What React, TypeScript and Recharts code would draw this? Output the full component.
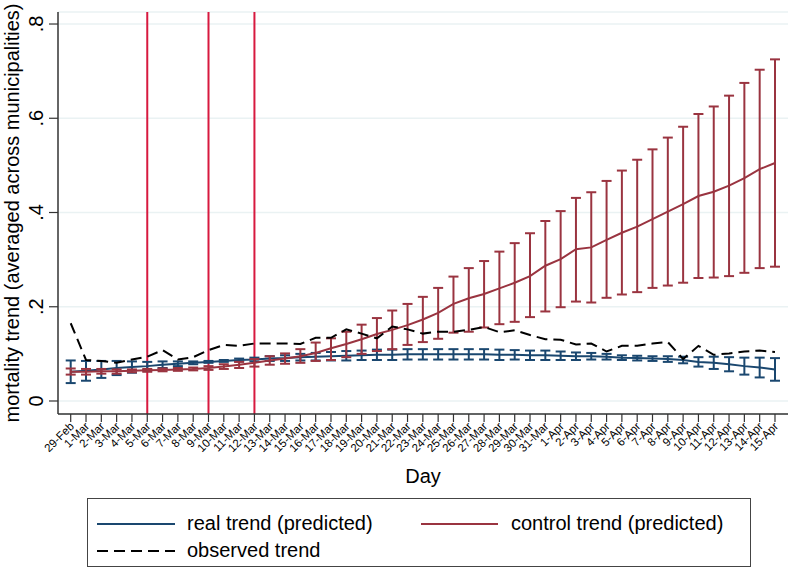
import React from "react";
import {
  LineChart,
  Line,
  XAxis,
  YAxis,
  CartesianGrid,
  ReferenceLine,
  ErrorBar,
  Label,
} from "recharts";

const days = [
  "29-Feb",
  "1-Mar", "2-Mar", "3-Mar", "4-Mar", "5-Mar", "6-Mar", "7-Mar", "8-Mar", "9-Mar", "10-Mar",
  "11-Mar", "12-Mar", "13-Mar", "14-Mar", "15-Mar", "16-Mar", "17-Mar", "18-Mar", "19-Mar", "20-Mar",
  "21-Mar", "22-Mar", "23-Mar", "24-Mar", "25-Mar", "26-Mar", "27-Mar", "28-Mar", "29-Mar", "30-Mar",
  "31-Mar",
  "1-Apr", "2-Apr", "3-Apr", "4-Apr", "5-Apr", "6-Apr", "7-Apr", "8-Apr", "9-Apr", "10-Apr",
  "11-Apr", "12-Apr", "13-Apr", "14-Apr", "15-Apr",
];

// policy dates marked with vertical lines
const policyDays = ["5-Mar", "9-Mar", "12-Mar"];

const yTicks = [0, 0.2, 0.4, 0.6, 0.8];

const real = [
  0.062, 0.064, 0.067, 0.070, 0.072, 0.074, 0.077, 0.079, 0.081, 0.083, 0.085,
  0.087, 0.088, 0.090, 0.091, 0.093, 0.094, 0.095, 0.096, 0.097, 0.098,
  0.098, 0.099, 0.099, 0.099, 0.099, 0.099, 0.099, 0.098, 0.098, 0.097,
  0.097, 0.096, 0.095, 0.095, 0.094, 0.092, 0.091, 0.090, 0.089, 0.087,
  0.083, 0.081, 0.078, 0.074, 0.071, 0.067,
];
const realLow = [
  0.038, 0.043, 0.049, 0.055, 0.060, 0.065, 0.070, 0.074, 0.078, 0.081, 0.083,
  0.084, 0.084, 0.085, 0.085, 0.086, 0.086, 0.086, 0.086, 0.087, 0.087,
  0.087, 0.088, 0.088, 0.088, 0.088, 0.088, 0.088, 0.087, 0.088, 0.087,
  0.087, 0.087, 0.087, 0.088, 0.088, 0.087, 0.086, 0.085, 0.083, 0.080,
  0.073, 0.068, 0.063, 0.056, 0.050, 0.043,
];
const realHigh = [
  0.086, 0.085, 0.085, 0.085, 0.084, 0.083, 0.084, 0.084, 0.084, 0.085, 0.087,
  0.090, 0.092, 0.095, 0.097, 0.100, 0.102, 0.104, 0.106, 0.107, 0.109,
  0.109, 0.110, 0.110, 0.110, 0.110, 0.110, 0.110, 0.109, 0.108, 0.107,
  0.107, 0.105, 0.103, 0.102, 0.100, 0.097, 0.096, 0.095, 0.095, 0.094,
  0.093, 0.094, 0.093, 0.092, 0.092, 0.091,
];

const control = [
  0.062, 0.062, 0.063, 0.063, 0.064, 0.065, 0.066, 0.067, 0.068, 0.070, 0.073,
  0.077, 0.081, 0.086, 0.090, 0.095, 0.102, 0.112, 0.121, 0.131, 0.142,
  0.151, 0.161, 0.173, 0.187, 0.206, 0.218, 0.227, 0.239, 0.251, 0.265,
  0.287, 0.301, 0.322, 0.326, 0.342, 0.357, 0.370, 0.386, 0.402, 0.418,
  0.435, 0.444, 0.457, 0.473, 0.492, 0.505,
];
const controlLow = [
  0.056, 0.056, 0.058, 0.058, 0.061, 0.062, 0.063, 0.064, 0.065, 0.066, 0.068,
  0.070, 0.073, 0.077, 0.079, 0.081, 0.085, 0.087, 0.093, 0.100, 0.106,
  0.110, 0.119, 0.125, 0.132, 0.145, 0.147, 0.156, 0.163, 0.168, 0.178,
  0.190, 0.199, 0.211, 0.209, 0.219, 0.226, 0.231, 0.240, 0.245, 0.251,
  0.261, 0.262, 0.265, 0.272, 0.282, 0.285,
];
const controlHigh = [
  0.069, 0.068, 0.068, 0.067, 0.067, 0.068, 0.069, 0.070, 0.071, 0.074, 0.078,
  0.083, 0.089, 0.095, 0.101, 0.110, 0.124, 0.133, 0.147, 0.162, 0.176,
  0.192, 0.206, 0.221, 0.240, 0.264, 0.282, 0.297, 0.317, 0.335, 0.356,
  0.382, 0.403, 0.431, 0.443, 0.467, 0.489, 0.512, 0.534, 0.559, 0.582,
  0.609, 0.625, 0.648, 0.675, 0.703, 0.725,
];

const observed = [
  0.165, 0.087, 0.085, 0.081, 0.088, 0.094, 0.108, 0.088, 0.093, 0.108, 0.119,
  0.117, 0.122, 0.122, 0.122, 0.121, 0.134, 0.134, 0.152, 0.143, 0.133,
  0.158, 0.152, 0.143, 0.147, 0.147, 0.151, 0.157, 0.146, 0.150, 0.140,
  0.131, 0.130, 0.120, 0.122, 0.105, 0.117, 0.117, 0.122, 0.125, 0.089,
  0.117, 0.098, 0.101, 0.105, 0.107, 0.104,
];

const data = days.map((day, i) => ({
  idx: i,
  day,
  real: real[i],
  realErr: [real[i] - realLow[i], realHigh[i] - real[i]],
  control: control[i],
  controlErr: [control[i] - controlLow[i], controlHigh[i] - control[i]],
  observed: observed[i],
}));

const BLUE = "#1A476F";
const RED = "#9A3440";
const VLINE = "#D7193F";
const AXIS = "#333333";
const FONT = "'Liberation Sans', Arial, Helvetica, sans-serif";

const XTick = (props: any) => {
  const { x, y, payload } = props;
  const px = x + 4;
  const py = y + 3;
  return (
    <text
      x={px}
      y={py}
      transform={`rotate(-45, ${px}, ${py})`}
      textAnchor="end"
      fontSize={11.5}
      fontFamily={FONT}
      fill="#000"
    >
      {days[payload.value]}
    </text>
  );
};

const YTick = (props: any) => {
  const { y, payload } = props;
  const label = payload.value === 0 ? "0" : String(payload.value).replace(/^0/, "");
  return (
    <text
      x={43}
      y={y}
      transform={`rotate(-90, 43, ${y})`}
      textAnchor="middle"
      fontSize={20}
      fontFamily={FONT}
      fill="#000"
    >
      {label}
    </text>
  );
};

const DayLabel = (props: any) => {
  const vb = props.viewBox || { x: 58, y: 414, width: 730 };
  return (
    <text
      x={vb.x + vb.width / 2}
      y={vb.y + 69}
      textAnchor="middle"
      fontSize={20}
      fontFamily={FONT}
      fill="#000"
    >
      Day
    </text>
  );
};

const YTitle = () => (
  <text
    x={19}
    y={213}
    transform="rotate(-90, 19, 213)"
    textAnchor="middle"
    fontSize={20}
    fontFamily={FONT}
    fill="#000"
  >
    mortality trend (averaged across municipalities)
  </text>
);

const legendText: React.CSSProperties = {
  position: "absolute",
  fontSize: 20,
  fontFamily: FONT,
  color: "#000",
  lineHeight: "20px",
  whiteSpace: "nowrap",
};

function ChartLegend() {
  return (
    <div
      style={{
        position: "absolute",
        left: 87,
        top: 498,
        width: 664,
        height: 69,
        border: "1px solid #444",
        boxSizing: "border-box",
        background: "#fff",
      }}
    >
      <svg width={664} height={69} style={{ position: "absolute", left: 0, top: 0 }}>
        <line x1={9} x2={87} y1={25} y2={25} stroke={BLUE} strokeWidth={2} />
        <line x1={333} x2={410} y1={25} y2={25} stroke={RED} strokeWidth={2} />
        <line x1={9} x2={87} y1={52} y2={52} stroke="#000" strokeWidth={2} strokeDasharray="11 6" />
      </svg>
      <div style={{ ...legendText, left: 99, top: 14 }}>real trend (predicted)</div>
      <div style={{ ...legendText, left: 423, top: 14 }}>control trend (predicted)</div>
      <div style={{ ...legendText, left: 99, top: 41 }}>observed trend</div>
    </div>
  );
}

export default function App() {
  return (
    <div style={{ position: "relative", width: 790, height: 570, background: "#fff" }}>
      <style>{`body{margin:0;}`}</style>
      <LineChart
        width={790}
        height={570}
        data={data}
        margin={{ top: 12, right: 2, left: 0, bottom: 0 }}
      >
        <CartesianGrid vertical={false} stroke="#EAF2F3" strokeWidth={1.5} />
        <XAxis
          type="number"
          dataKey="idx"
          domain={[-0.83, 46.85]}
          ticks={days.map((_, i) => i)}
          interval={0}
          allowDataOverflow
          height={156}
          tickSize={8}
          tick={<XTick />}
          tickLine={{ stroke: AXIS, strokeWidth: 1.2 }}
          axisLine={{ stroke: AXIS, strokeWidth: 1.5 }}
        >
          <Label content={<DayLabel />} />
        </XAxis>
        <YAxis
          type="number"
          domain={[-0.0276, 0.8255]}
          ticks={yTicks}
          interval={0}
          allowDataOverflow
          width={58}
          tickSize={9}
          tick={<YTick />}
          tickLine={{ stroke: AXIS, strokeWidth: 1.2 }}
          axisLine={{ stroke: AXIS, strokeWidth: 1.5 }}
        >
          <Label content={<YTitle />} />
        </YAxis>
        {policyDays.map((d) => (
          <ReferenceLine key={d} x={days.indexOf(d)} stroke={VLINE} strokeWidth={2} />
        ))}
        <Line
          type="linear"
          dataKey="real"
          stroke={BLUE}
          strokeWidth={2}
          dot={false}
          isAnimationActive={false}
        >
          <ErrorBar
            dataKey="realErr"
            direction="y"
            width={5}
            stroke={BLUE}
            strokeWidth={2}
            isAnimationActive={false}
          />
        </Line>
        <Line
          type="linear"
          dataKey="control"
          stroke={RED}
          strokeWidth={2}
          dot={false}
          isAnimationActive={false}
        >
          <ErrorBar
            dataKey="controlErr"
            direction="y"
            width={5}
            stroke={RED}
            strokeWidth={2}
            isAnimationActive={false}
          />
        </Line>
        <Line
          type="linear"
          dataKey="observed"
          stroke="#000"
          strokeWidth={2}
          strokeDasharray="11 6"
          dot={false}
          isAnimationActive={false}
        />
      </LineChart>
      <ChartLegend />
    </div>
  );
}
